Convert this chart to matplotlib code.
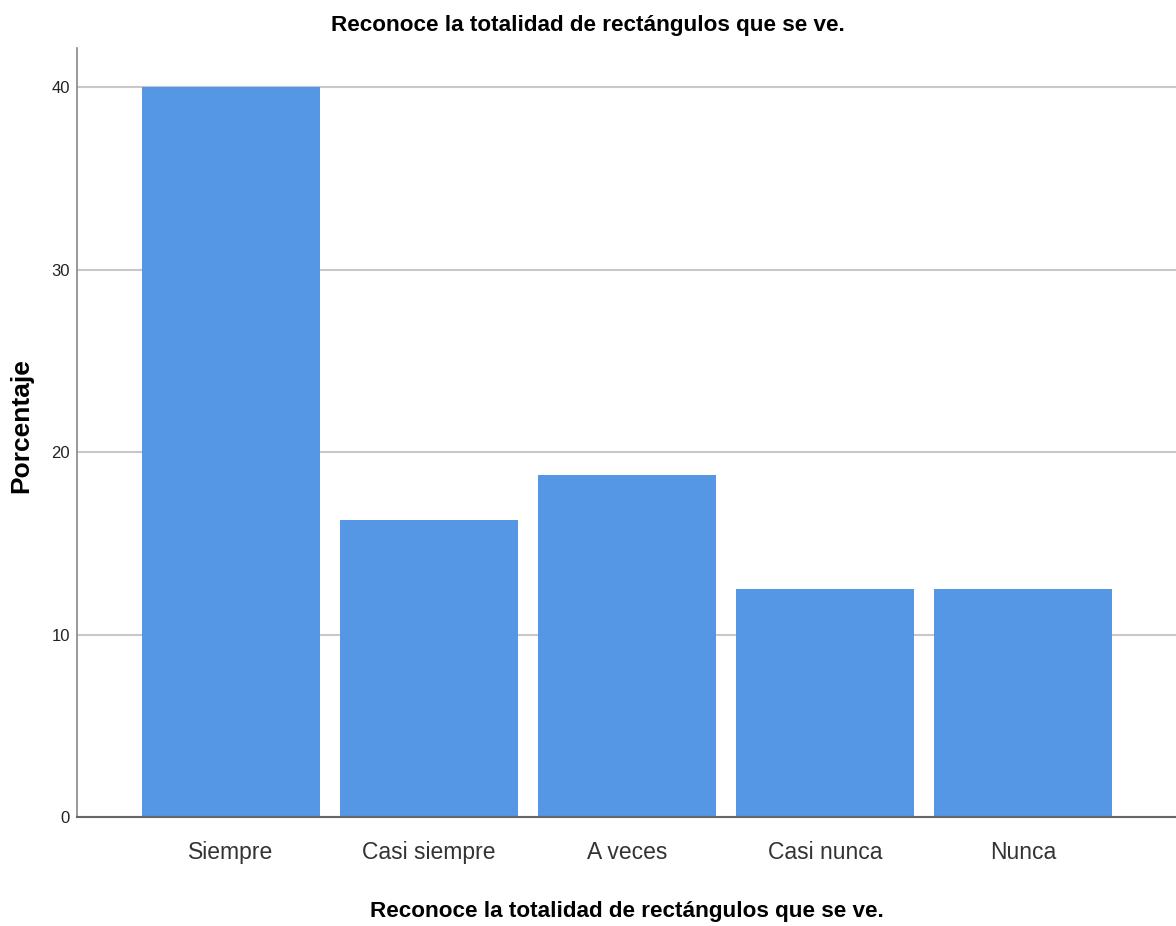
import matplotlib.pyplot as plt
from matplotlib import font_manager

categories = ['Siempre', 'Casi siempre', 'A veces', 'Casi nunca', 'Nunca']
porcentaje = [40.0, 16.25, 18.75, 12.5, 12.5]
y_ticks = [0, 10, 20, 30, 40]
title = 'Reconoce la totalidad de rectángulos que se ve.'

names = {f.name for f in font_manager.fontManager.ttflist}
narrow = ['Liberation Sans Narrow', 'Liberation Sans', 'DejaVu Sans']
narrow = [n for n in narrow if n in names] or ['DejaVu Sans']

fig = plt.figure(figsize=(11.76, 9.26), dpi=100)
ax = fig.add_axes([0.0655, 0.1177, 0.9345, 0.8305])

x = range(len(categories))
ax.bar(x, porcentaje, width=0.9, color='#5596e5', zorder=2)

ax.set_xlim(-0.778, 4.773)
ax.set_ylim(0, 42.14)
ax.set_yticks(y_ticks)
ax.set_xticks(list(x))
ax.set_xticklabels(categories, family=narrow, fontsize=16.5, color='#333333')
for lab in ax.get_yticklabels():
    lab.set_family(narrow)
    lab.set_fontsize(12)
    lab.set_color('#222222')

ax.yaxis.grid(True, color='#c8c8c8', linewidth=1.5, zorder=0)
ax.set_axisbelow(True)
ax.tick_params(axis='both', length=0)
ax.tick_params(axis='x', pad=17)
ax.tick_params(axis='y', pad=5)

for s in ['top', 'right']:
    ax.spines[s].set_visible(False)
ax.spines['left'].set_color('#888888')
ax.spines['bottom'].set_color('#666666')
ax.spines['left'].set_linewidth(1.2)
ax.spines['bottom'].set_linewidth(1.5)

fig.text(0.5, 0.972, title, ha='center', va='center', family=narrow,
         fontsize=16.2, fontweight='bold')
fig.text(0.533, 0.016, title, ha='center', va='center', family=narrow,
         fontsize=16.2, fontweight='bold')
fig.text(0.018, 0.54, 'Porcentaje', rotation=90, ha='center', va='center',
         family=['Liberation Sans', 'DejaVu Sans'], fontsize=19, fontweight='bold')

fig.savefig('out.png', dpi=100)
